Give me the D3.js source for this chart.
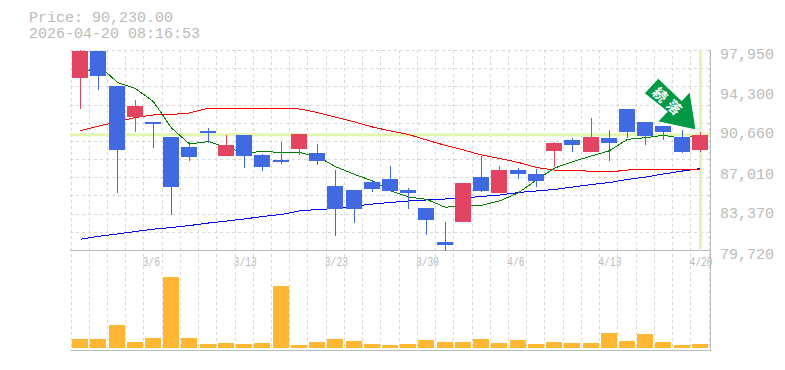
<!DOCTYPE html>
<html>
<head>
<meta charset="utf-8">
<script src="https://cdn.jsdelivr.net/npm/d3@7"></script>
<style>
  html, body { margin: 0; padding: 0; background: #fff; }
  svg { display: block; }
  text { font-family: "Liberation Mono", monospace; fill: #bbb; }
</style>
</head>
<body>
<svg id="chart" width="785" height="370"></svg>
<script>
const priceLabel = "Price: 90,230.00";
const timeLabel = "2026-04-20 08:16:53";
const lastPrice = 90230;
const signalLabel = ["続", "落"];

const dates = ["3/2","3/3","3/4","3/5","3/6","3/9","3/10","3/11","3/12","3/13","3/16","3/17","3/18","3/19","3/23","3/24","3/25","3/26","3/27","3/30","3/31","4/1","4/2","4/3","4/6","4/7","4/8","4/9","4/10","4/13","4/14","4/15","4/16","4/17","4/20"];
const dateTicks = ["3/6","3/13","3/23","3/30","4/6","4/13","4/20"];
const priceTicks = [97950, 94300, 90660, 87010, 83370, 79720];

const opens = [95430,97860,94670,91840,91390,90020,89110,90570,88290,90200,88380,87920,88930,88560,85550,85190,85920,86190,85190,83550,80450,82270,86370,84920,87010,86650,88740,89750,88650,89930,92570,91390,91020,90020,88840];
const closes = [97860,95610,88860,92850,91200,85490,88200,90380,89290,88290,87290,87740,90290,87830,83460,83460,85280,85100,84920,82450,80180,85830,85100,87010,86650,86010,89470,89290,90020,89470,90480,90110,90480,88650,90230];
const highs = [97950,97860,94670,93390,91390,90020,89590,90810,90200,90200,88470,89560,90290,89380,87010,85190,86100,87380,85370,83550,82270,85830,88290,87380,87190,87100,89560,89930,91750,90660,92570,91390,91020,90660,90480];
const lows = [92570,94300,84940,90500,89050,82940,87860,89500,88290,87190,86920,87560,88380,87470,81000,82180,85010,85100,83460,81090,79630,82270,85010,84920,86190,85460,87290,88650,88650,87830,89930,89290,89750,88560,88650];

const maShort = [95670,96580,94990,94440,93240,90840,89380,89610,89060,88560,88700,88610,88610,88240,87310,86620,86010,85130,84550,84340,83610,83820,83780,84190,84940,86100,87190,87770,88290,88770,89810,89960,90170,89900,90200];
const maMid = [90590,91020,91390,91800,92030,92070,92210,92660,92660,92660,92660,92640,92570,92250,91840,91390,90930,90570,90250,89750,89250,88840,88380,88060,87700,87240,87010,87010,86880,86830,87010,87060,87060,87060,87100];
const maLong = [80700,80970,81180,81410,81620,81770,81950,82180,82360,82550,82770,82960,83280,83410,83500,83730,83910,84050,84190,84280,84370,84460,84600,84730,84960,85100,85240,85460,85690,85870,86150,86370,86650,86920,87150];

const volumes = [9,9,23,6,10,71,10,4,5,4,5,62,3,6,9,7,4,3,4,8,6,6,9,5,8,4,6,5,5,15,7,14,6,3,4];

const LEFT = 71, RIGHT = 709, TOP = 50, MID = 250, BOTTOM = 350;
const RED = "#e24462", BLUE = "#4169e1";
const GRID = "#d8d8d8", FRAME = "#bbb", HILITE = "#e4f5b0";

const svg = d3.select("#chart");

const x = d3.scaleBand().domain(dates).range([LEFT, RIGHT]);
const y = d3.scaleLinear().domain([priceTicks[priceTicks.length - 1], priceTicks[0]]).range([MID, TOP]);
const yVol = d3.scaleLinear().domain([0, 100]).range([348, 248]);
const cx = i => Math.round(x(dates[i]) + x.bandwidth() / 2);

// dashed grid: one vertical at every band edge, 11 rows in the price panel
const gridV = dates.map(d => Math.floor(x(d)) + 0.5).concat([RIGHT + 0.5]);
svg.append("g").selectAll("line").data(gridV).join("line")
  .attr("x1", d => d).attr("x2", d => d)
  .attr("y1", TOP).attr("y2", BOTTOM)
  .attr("stroke", GRID).attr("stroke-dasharray", "3,3");

const gridH = d3.range(11).map(i => Math.round(TOP + i * (MID - TOP) / 11) + 0.5);
svg.append("g").selectAll("line").data(gridH).join("line")
  .attr("x1", 70).attr("x2", 710)
  .attr("y1", d => d).attr("y2", d => d)
  .attr("stroke", GRID).attr("stroke-dasharray", "3,3");

// last price / last date highlight
svg.append("line").attr("x1", 70).attr("x2", 710)
  .attr("y1", y(lastPrice)).attr("y2", y(lastPrice))
  .attr("stroke", HILITE).attr("stroke-width", 3);
svg.append("line").attr("x1", cx(34) + 0.5).attr("x2", cx(34) + 0.5)
  .attr("y1", TOP).attr("y2", 249)
  .attr("stroke", HILITE).attr("stroke-width", 3);

// frame
[[70, 710, MID + 0.5, MID + 0.5], [70, 710, BOTTOM + 0.5, BOTTOM + 0.5], [710.5, 710.5, TOP, BOTTOM + 1]].forEach(f => {
  svg.append("line").attr("x1", f[0]).attr("x2", f[1]).attr("y1", f[2]).attr("y2", f[3])
    .attr("stroke", FRAME);
});

// moving averages, aliased like the original
const line = d3.line().x((d, i) => cx(i) + 0.5).y(d => y(d));
[[maLong, "#0000ff"], [maMid, "#ff0000"], [maShort, "#008000"]].forEach(m => {
  svg.append("path").attr("d", line(m[0]))
    .attr("fill", "none").attr("stroke", m[1]).attr("stroke-width", 1)
    .attr("shape-rendering", "crispEdges");
});

// candles
const candles = svg.append("g").selectAll("g").data(dates).join("g")
  .attr("fill", (d, i) => closes[i] >= opens[i] ? RED : BLUE)
  .attr("stroke", (d, i) => closes[i] >= opens[i] ? RED : BLUE);
candles.append("line")
  .attr("x1", (d, i) => cx(i) + 0.5).attr("x2", (d, i) => cx(i) + 0.5)
  .attr("y1", (d, i) => Math.round(y(highs[i]))).attr("y2", (d, i) => Math.round(y(lows[i])));
candles.append("rect")
  .attr("stroke", "none")
  .attr("x", (d, i) => cx(i) - 8).attr("width", 16)
  .attr("y", (d, i) => Math.round(y(Math.max(opens[i], closes[i]))))
  .attr("height", (d, i) => Math.max(2, Math.round(y(Math.min(opens[i], closes[i]))) - Math.round(y(Math.max(opens[i], closes[i])))));

// volume
svg.append("g").selectAll("rect").data(volumes).join("rect")
  .attr("fill", "#ffb733")
  .attr("x", (d, i) => cx(i) - 8).attr("width", 16)
  .attr("y", d => yVol(d)).attr("height", d => yVol(0) - yVol(d));

// axes
const yAxis = d3.axisRight(y).tickValues(priceTicks).tickFormat(d3.format(",")).tickSize(0);
svg.append("g").attr("transform", "translate(720,0)").call(yAxis)
  .call(g => g.select(".domain").remove())
  .selectAll("text")
  .attr("x", 0).attr("dy", 8).style("font-size", "15px").attr("fill", "#bbb");

const xAxis = d3.axisBottom(x).tickValues(dateTicks).tickSize(0);
svg.append("g").attr("transform", "translate(0,266)").call(xAxis)
  .call(g => g.select(".domain").remove())
  .selectAll("text")
  .attr("y", 0).attr("dy", 0).attr("x", -10.5)
  .attr("text-anchor", "start")
  .attr("textLength", d => d.length * 5.8)
  .attr("lengthAdjust", "spacingAndGlyphs")
  .style("font-size", "13px").attr("fill", "#bbb");

// header, squeezed a little so the two lines do not collide
svg.append("text").attr("x", 29).attr("y", 22).style("font-size", "14px")
  .attr("textLength", 144).attr("lengthAdjust", "spacingAndGlyphs").text(priceLabel);
svg.append("text").attr("x", 29).attr("y", 38).style("font-size", "14px")
  .attr("textLength", 171).attr("lengthAdjust", "spacingAndGlyphs").text(timeLabel);

// signal arrow
svg.append("polygon")
  .attr("points", "658.3,78.3 644.3,93.3 667.3,111.7 657.7,121.7 696,130 690,91.7 681.7,100.7")
  .attr("fill", "#009944").attr("stroke", "#fff").attr("stroke-width", 1);
signalLabel.forEach((s, i) => {
  svg.append("text")
    .attr("transform", `translate(${660 + i * 14},${95 + i * 12.5}) rotate(45)`)
    .attr("text-anchor", "middle").attr("dy", 5)
    .style("font-family", '"Noto Sans CJK JP"').style("font-size", "14px").style("font-weight", "700")
    .style("fill", "#fff")
    .text(s);
});
</script>
</body>
</html>
